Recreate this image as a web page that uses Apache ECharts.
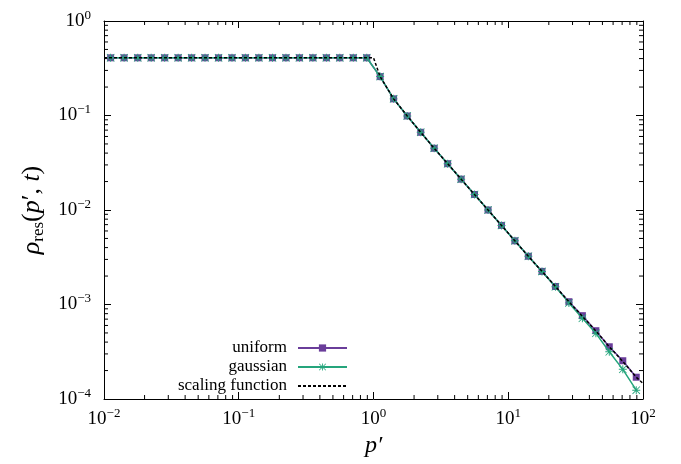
<!DOCTYPE html>
<html>
<head>
    <meta charset="UTF-8">
    <title>rho_res scaling</title>
    <script src="https://cdn.jsdelivr.net/npm/echarts@6/dist/echarts.min.js"></script>
</head>
<body style="margin:0">
<div id="chart" style="width:681px; height:464px;"></div>
<script>
    // p' sample points (log-spaced bins)
    var pX = [0.0112, 0.0141, 0.0178, 0.0224, 0.0282, 0.0355, 0.0447, 0.0562, 0.0708, 0.0891,
              0.112, 0.141, 0.178, 0.224, 0.282, 0.355, 0.447, 0.562, 0.708, 0.891,
              1.12, 1.41, 1.78, 2.24, 2.82, 3.55, 4.47, 5.62, 7.08, 8.91,
              11.2, 14.1, 17.8, 22.4, 28.2, 35.5, 44.7, 56.2, 70.8, 89.1];
    var uniformY = [0.408, 0.408, 0.408, 0.408, 0.408, 0.408, 0.408, 0.408, 0.408, 0.408,
                    0.408, 0.408, 0.408, 0.408, 0.408, 0.408, 0.408, 0.408, 0.408, 0.408,
                    0.258, 0.150, 0.0989, 0.0664, 0.0450, 0.0309, 0.0212, 0.0146, 0.0100, 0.00687,
                    0.00472, 0.00324, 0.00224, 0.00155, 0.00107, 0.000762, 0.000528, 0.000357, 0.000254, 0.000170];
    var gaussianY = [0.408, 0.408, 0.408, 0.408, 0.408, 0.408, 0.408, 0.408, 0.408, 0.408,
                     0.408, 0.408, 0.408, 0.408, 0.408, 0.408, 0.408, 0.408, 0.408, 0.408,
                     0.258, 0.150, 0.0989, 0.0664, 0.0450, 0.0309, 0.0212, 0.0146, 0.0100, 0.00687,
                     0.00472, 0.00324, 0.00224, 0.00154, 0.00104, 0.000714, 0.000495, 0.000316, 0.000206, 0.000124];
    // scaling function
    var scaleX = [0.01, 1.0, 1.12, 1.41, 1.78, 2.24, 2.82, 3.55, 4.47, 5.62, 7.08, 8.91,
                  11.2, 14.1, 17.8, 22.4, 28.2, 35.5, 44.7, 56.2, 70.8, 89.1, 100];
    var scaleY = [0.408, 0.408, 0.258, 0.150, 0.0989, 0.0664, 0.0450, 0.0309, 0.0212, 0.0146, 0.0100, 0.00687,
                  0.00472, 0.00324, 0.00224, 0.00155, 0.00107, 0.000750, 0.000525, 0.000357, 0.000250, 0.000170, 0.000146];

    var xMinor = [0.02, 0.03, 0.04, 0.05, 0.06, 0.07, 0.08, 0.09,
                  0.2, 0.3, 0.4, 0.5, 0.6, 0.7, 0.8, 0.9,
                  2, 3, 4, 5, 6, 7, 8, 9,
                  20, 30, 40, 50, 60, 70, 80, 90];
    var yMinor = [2e-4, 3e-4, 4e-4, 5e-4, 6e-4, 7e-4, 8e-4, 9e-4,
                  2e-3, 3e-3, 4e-3, 5e-3, 6e-3, 7e-3, 8e-3, 9e-3,
                  0.02, 0.03, 0.04, 0.05, 0.06, 0.07, 0.08, 0.09,
                  0.2, 0.3, 0.4, 0.5, 0.6, 0.7, 0.8, 0.9];

    var xMin = 0.01, xMax = 100, yMin = 1e-4, yMax = 1;
    var serif = 'Liberation Serif';
    var purple = '#6a3d9a', green = '#25a57c';
    var asterisk = 'path://M4.4,0 L5.6,0 L5.6,10 L4.4,10 Z M0,4.4 L10,4.4 L10,5.6 L0,5.6 Z ' +
                   'M0.7,0 L10,9.3 L9.3,10 L0,0.7 Z M9.3,0 L10,0.7 L0.7,10 L0,9.3 Z';

    function pair(xs, ys) {
        return xs.map(function (x, i) { return [x, ys[i]]; });
    }

    function powLabel(v) {
        var e = Math.round(Math.log(v) / Math.LN10);
        return '{b|10}{s|' + (e < 0 ? '\u2212' + (-e) : e) + '}';
    }
    var powRich = {
        b: {fontFamily: serif, fontSize: 19, color: '#000', lineHeight: 24},
        s: {fontFamily: serif, fontSize: 13, color: '#000', lineHeight: 10, verticalAlign: 'top'}
    };
    var tickStyle = {show: true, inside: true, length: 7, lineStyle: {color: '#000', width: 1}};
    var lineStyle = {show: true, lineStyle: {color: '#000', width: 1}};

    function minorXTick(params, api) {
        var b = api.coord([api.value(0), yMin]);
        var t = api.coord([api.value(0), yMax]);
        return {type: 'group', children: [
            {type: 'line', shape: {x1: b[0], y1: b[1], x2: b[0], y2: b[1] - 4}, style: {stroke: '#000', lineWidth: 1}},
            {type: 'line', shape: {x1: t[0], y1: t[1], x2: t[0], y2: t[1] + 4}, style: {stroke: '#000', lineWidth: 1}}
        ]};
    }
    function minorYTick(params, api) {
        var l = api.coord([xMin, api.value(1)]);
        var r = api.coord([xMax, api.value(1)]);
        return {type: 'group', children: [
            {type: 'line', shape: {x1: l[0], y1: l[1], x2: l[0] + 4, y2: l[1]}, style: {stroke: '#000', lineWidth: 1}},
            {type: 'line', shape: {x1: r[0], y1: r[1], x2: r[0] - 4, y2: r[1]}, style: {stroke: '#000', lineWidth: 1}}
        ]};
    }

    var chart = echarts.init(document.getElementById('chart'), null, {renderer: 'canvas'});
    var option = {
        animation: false,
        backgroundColor: '#fff',
        grid: {left: 104, top: 21, right: 38, bottom: 65},
        legend: {
            data: ['uniform', 'gaussian', {
                name: 'scaling function',
                itemStyle: {color: 'rgba(0,0,0,0)', borderWidth: 0}
            }],
            orient: 'vertical',
            align: 'right',
            right: 333,
            top: 339,
            padding: 0,
            itemWidth: 49,
            itemHeight: 9,
            itemGap: 1,
            textStyle: {fontFamily: serif, fontSize: 17, color: '#000', lineHeight: 18, padding: [0, 6, 0, 0]}
        },
        xAxis: [{
            type: 'log', logBase: 10, min: xMin, max: xMax,
            position: 'bottom',
            axisLine: lineStyle, axisTick: tickStyle, splitLine: {show: false},
            axisLabel: {margin: 8, formatter: powLabel, rich: powRich},
            name: 'p\u2032', nameLocation: 'middle', nameGap: 33,
            nameTextStyle: {fontFamily: serif, fontSize: 24, fontStyle: 'italic', color: '#000'}
        }, {
            type: 'log', logBase: 10, min: xMin, max: xMax,
            position: 'top',
            axisLine: lineStyle, axisTick: tickStyle, splitLine: {show: false},
            axisLabel: {show: false}
        }],
        yAxis: [{
            type: 'log', logBase: 10, min: yMin, max: yMax,
            position: 'left',
            axisLine: lineStyle, axisTick: tickStyle, splitLine: {show: false},
            axisLabel: {margin: 13, formatter: powLabel, rich: powRich},
            name: '{i|\u03c1}{sub|res}{n|(}{i|p}{n|\u2032, }{i|t}{n|)}',
            nameLocation: 'middle', nameGap: 46, nameRotate: 90,
            nameTextStyle: {
                rich: {
                    i: {fontFamily: serif, fontSize: 26, fontStyle: 'italic', color: '#000', lineHeight: 30},
                    n: {fontFamily: serif, fontSize: 26, color: '#000', lineHeight: 30},
                    sub: {fontFamily: serif, fontSize: 17, color: '#000', lineHeight: 13, verticalAlign: 'bottom'}
                }
            }
        }, {
            type: 'log', logBase: 10, min: yMin, max: yMax,
            position: 'right',
            axisLine: lineStyle, axisTick: tickStyle, splitLine: {show: false},
            axisLabel: {show: false}
        }],
        series: [{
            name: 'uniform',
            type: 'line',
            data: pair(pX, uniformY),
            symbol: 'rect', symbolSize: 7,
            lineStyle: {color: purple, width: 1.5},
            itemStyle: {color: purple},
            z: 3
        }, {
            name: 'gaussian',
            type: 'line',
            data: pair(pX, gaussianY),
            symbol: asterisk, symbolSize: 8,
            lineStyle: {color: green, width: 1.5},
            itemStyle: {color: green},
            z: 4
        }, {
            name: 'scaling function',
            type: 'line',
            data: pair(scaleX, scaleY),
            symbol: 'none',
            lineStyle: {color: '#000', width: 1.5, type: [3, 2]},
            itemStyle: {color: '#000'},
            z: 5
        }, {
            type: 'custom',
            renderItem: minorXTick,
            data: xMinor.map(function (v) { return [v, yMin]; }),
            silent: true, z: 2
        }, {
            type: 'custom',
            renderItem: minorYTick,
            data: yMinor.map(function (v) { return [xMin, v]; }),
            silent: true, z: 2
        }]
    };
    chart.setOption(option);
</script>
</body>
</html>
